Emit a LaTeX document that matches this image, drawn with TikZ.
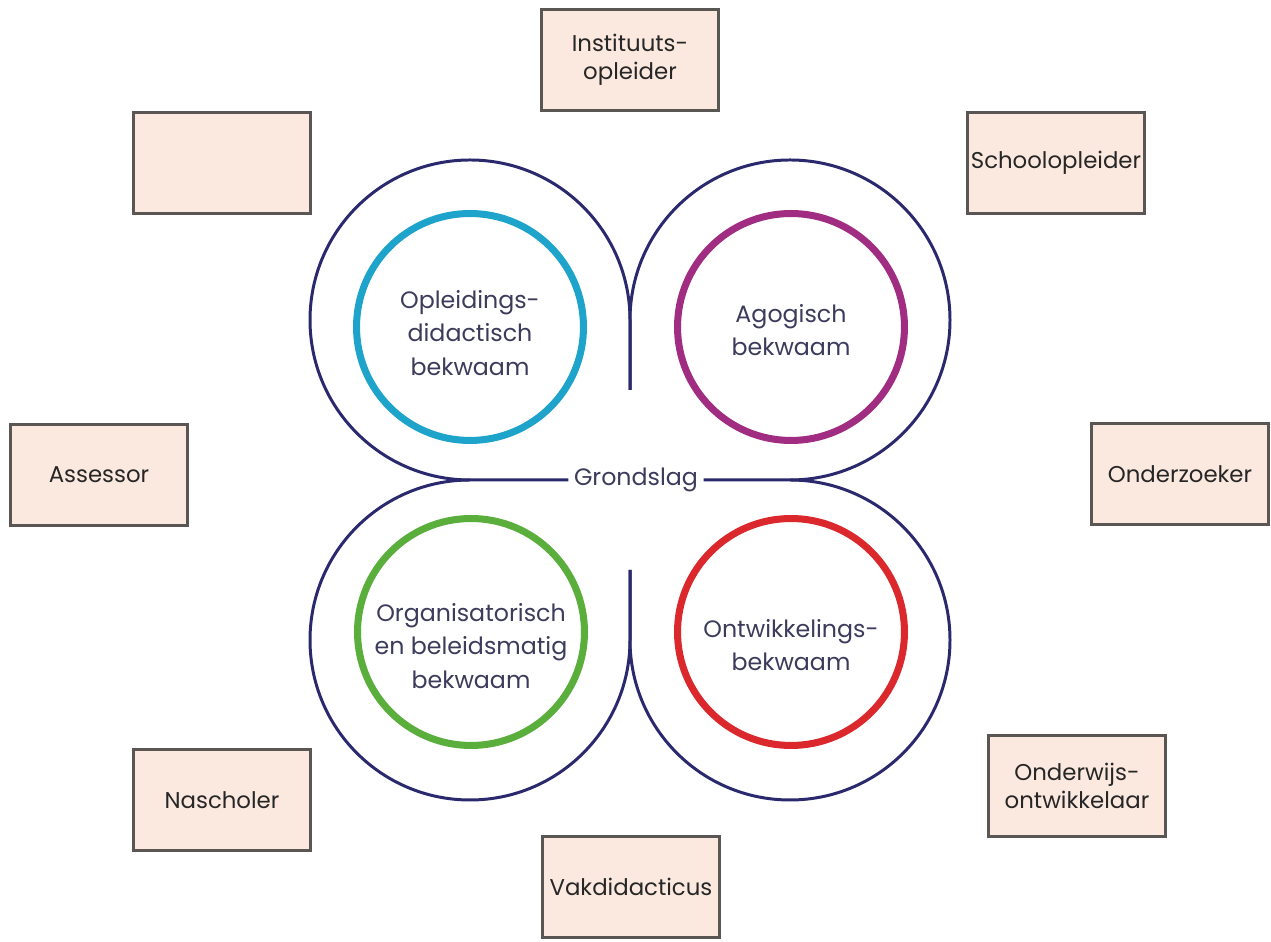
\documentclass[tikz,border=0pt]{standalone}
\usepackage{fontspec}
\setmainfont{Poppins}
\usepackage{tikz}
\usetikzlibrary{shapes}

\definecolor{navy}{RGB}{43,41,110}
\definecolor{comptxt}{RGB}{60,59,92}
\definecolor{boxfill}{RGB}{251,233,224}
\definecolor{boxline}{RGB}{90,86,84}
\definecolor{oplcol}{RGB}{30,163,203}
\definecolor{agocol}{RGB}{160,45,130}
\definecolor{orgcol}{RGB}{90,174,60}
\definecolor{ontcol}{RGB}{218,40,45}

\begin{document}
\begin{tikzpicture}[x=0.02cm,y=0.02cm,
    rol/.style={draw=boxline, fill=boxfill, line width=1.7pt,
        minimum width=3.54cm, minimum height=2.02cm, inner sep=2pt,
        text=black!85, align=center, font=\fontsize{13}{16}\selectfont},
    comp/.style={circle, line width=4pt, minimum size=4.54cm},
    comptext/.style={text=comptxt, align=center, font=\fontsize{13.5}{19}\selectfont},
    outer/.style={draw=navy, line width=1.7pt}]
    \useasboundingbox (0,0) rectangle (1271,942);

    \node[comp, draw=oplcol] (opl) at (470,615) {};
    \node[comp, draw=agocol] (ago) at (791,615) {};
    \node[comp, draw=orgcol] (org) at (471,310) {};
    \node[comp, draw=ontcol] (ont) at (791,310) {};
    \node[comptext] (opltext) at (470,609) {Opleidings-\\didactisch\\bekwaam};
    \node[comptext] (agotext) at (791,612) {Agogisch\\bekwaam};
    \node[comptext] (orgtext) at (471,296) {Organisatorisch\\en beleidsmatig\\bekwaam};
    \node[comptext] (onttext) at (791,297) {Ontwikkelings-\\bekwaam};

    \node[comptext, inner sep=3pt] (grond) at (636,462) {Grondslag};
    \draw[outer] (630,552) -- (630,622) arc[start angle=0, end angle=270, radius=160] -- (grond.west);
    \draw[outer] (630,552) -- (630,622) arc[start angle=180, end angle=-90, radius=160] -- (grond.east);
    \draw[outer] (630,372) -- (630,302) arc[start angle=0, end angle=-270, radius=160];
    \draw[outer] (630,372) -- (630,302) arc[start angle=180, end angle=450, radius=160];

    \node[rol] (inst) at (630,882) {Instituuts-\\opleider};
    \node[rol] (leeg) at (222,779) {};
    \node[rol] (school) at (1056,779) {Schoolopleider};
    \node[rol] (assessor) at (99,467) {Assessor};
    \node[rol] (onderz) at (1180,468) {Onderzoeker};
    \node[rol] (naschol) at (222,142) {Nascholer};
    \node[rol] (onderw) at (1077,156) {Onderwijs-\\ontwikkelaar};
    \node[rol] (vak) at (631,55) {Vakdidacticus};
\end{tikzpicture}
\end{document}
